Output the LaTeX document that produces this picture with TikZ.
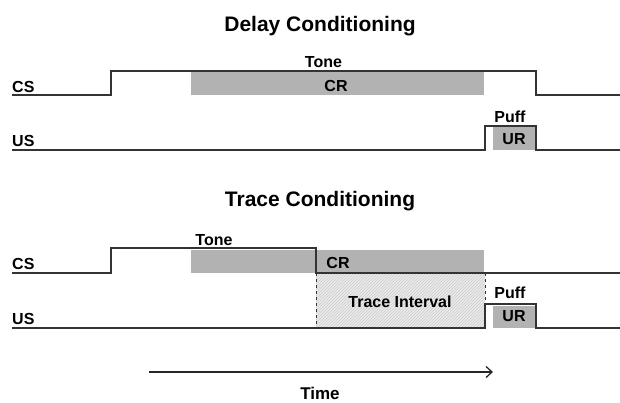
\documentclass[tikz,border=0pt]{standalone}
\usepackage{fontspec}
\setmainfont{Liberation Sans}
\usetikzlibrary{patterns,arrows.meta}
\tikzset{
  sig/.style={line width=1.7pt,draw=black!80},
  resp/.style={fill=black!30},
  lbl/.style={font=\fontsize{16}{18}\selectfont\bfseries,inner sep=0pt,anchor=base},
  ttl/.style={font=\fontsize{21}{24}\selectfont\bfseries,inner sep=0pt,anchor=base}
}

\begin{document}
\begin{tikzpicture}[x=1pt,y=-1pt]
\useasboundingbox (0,0) rectangle (620,402);
% delay conditioning
\node[ttl] (dtitle) at (320,31.5) {Delay Conditioning};
\fill[resp] (191,72) rectangle (484,95);
\fill[resp] (493,127) rectangle (535,150);
\draw[sig] (12,95) -- (111,95) -- (111,71) -- (536,71) -- (536,95) -- (620,95);
\draw[sig] (12,150) -- (485,150) -- (485,126) -- (536,126) -- (536,150) -- (620,150);
\node[lbl,anchor=base west] (dcs) at (12,92) {CS};
\node[lbl,anchor=base west] (dus) at (12,146.5) {US};
\node[lbl] (dtone) at (323.5,67) {Tone};
\node[lbl] (dcr) at (336,91) {CR};
\node[lbl] (dpuff) at (510,122.5) {Puff};
\node[lbl] (dur) at (514,144.5) {UR};
% trace conditioning
\node[ttl] (ttitle) at (320,206) {Trace Conditioning};
\fill[resp] (191,250) rectangle (484,273);
\fill[black!8] (316,273) rectangle (485,328);
\fill[pattern=north east lines,pattern color=black!20] (316,273) rectangle (485,328);
\draw[dashed,line width=0.8pt,draw=black!80] (316,273) -- (316,328) (485,273) -- (485,328);
\fill[resp] (493,306) rectangle (535,328);
\draw[sig] (12,273) -- (111,273) -- (111,248) -- (316,248) -- (316,273) -- (620,273);
\draw[sig] (12,328) -- (485,328) -- (485,304) -- (536,304) -- (536,328) -- (620,328);
\node[lbl,anchor=base west] (tcs) at (12,269.5) {CS};
\node[lbl,anchor=base west] (tus) at (12,324) {US};
\node[lbl] (ttone) at (214,245) {Tone};
\node[lbl] (tcr) at (338,268) {CR};
\node[lbl] (tint) at (400,307.5) {Trace Interval};
\node[lbl] (tpuff) at (510,298.5) {Puff};
\node[lbl] (tur) at (514,321.5) {UR};
% time axis
\coordinate (t0) at (149,372);
\coordinate (t1) at (493,372);
\draw[line width=1.3pt,draw=black!85,-{Straight Barb[length=6pt,width=11pt]}] (t0) -- (t1);
\node[lbl,font=\fontsize{17}{19}\selectfont\bfseries] (time) at (320,399) {Time};
\end{tikzpicture}
\end{document}
